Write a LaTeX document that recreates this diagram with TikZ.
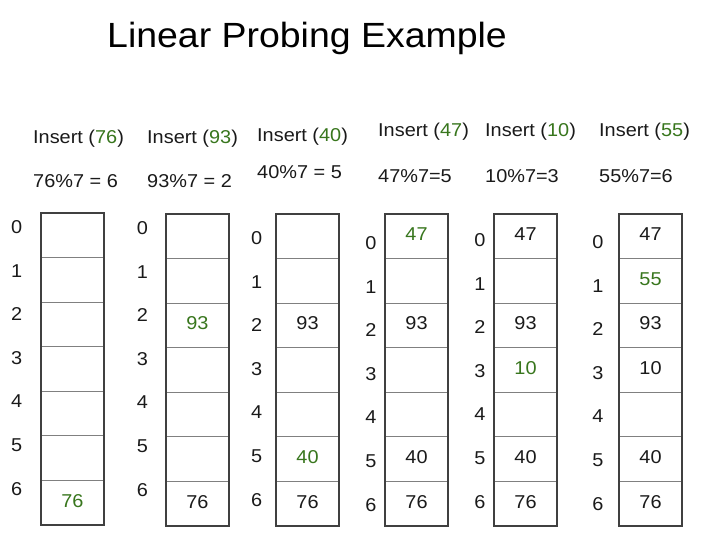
\documentclass[tikz,border=0pt]{standalone}
\usepackage{fontspec}
\setmainfont{Liberation Sans}[FakeStretch=1.07]
\definecolor{hl}{HTML}{38761D}
\definecolor{ink}{HTML}{1A1A1A}
\definecolor{rowline}{HTML}{808080}
\definecolor{boxline}{HTML}{404040}
\begin{document}
\begin{tikzpicture}[x=1pt,y=-1pt,
  cell/.style={draw=rowline, line width=0.9pt, minimum width=63pt, minimum height=44.57pt,
    inner sep=0pt, outer sep=0pt, anchor=north west},
  border/.style={draw=boxline, line width=1.3pt},
  idx/.style={inner sep=0pt, text=ink, font=\fontsize{18.6}{20}\selectfont},
  num/.style={inner sep=0pt, text=ink, yshift=2pt, font=\fontsize{18.6}{20}\selectfont},
  lbl/.style={inner sep=0pt, anchor=base west, text=ink, font=\fontsize{18.6}{20}\selectfont},
  ttl/.style={inner sep=0pt, anchor=base west, text=black, font=\fontsize{35}{40}\selectfont}]
\useasboundingbox (0,0) rectangle (714,535);
\fill[white] (0,0) rectangle (714,535);

\node[ttl] (title) at (107,47.7) {Linear Probing Example};

% tables: number / left x / top y / index x / first index y
\foreach \t/\x/\top/\ix/\iy in {1/41/213/16.7/227, 2/166/214/142.5/228, 3/276/214/256.7/238,
                                 4/385/214/371/243, 5/494/214/480/240, 6/619/214/598/242} {
  \foreach \r in {0,...,6} {
    \node[cell] (t\t-c\r) at (\x,{\top+\r*44.57}) {};
    \node[idx] (t\t-i\r) at (\ix,{\iy+\r*43.6}) {\r};
  }
  \draw[border] (t\t-c0.north west) rectangle (t\t-c6.south east);
}

% headers
\node[lbl] (h1a) at (33,143) {Insert (\textcolor{hl}{76})};
\node[lbl] (h1b) at (33,187) {76\%7 = 6};
\node[lbl] (h2a) at (147,143) {Insert (\textcolor{hl}{93})};
\node[lbl] (h2b) at (147,187) {93\%7 = 2};
\node[lbl] (h3a) at (257,141) {Insert (\textcolor{hl}{40})};
\node[lbl] (h3b) at (257,178) {40\%7 = 5};
\node[lbl] (h4a) at (378,136) {Insert (\textcolor{hl}{47})};
\node[lbl] (h4b) at (378,182) {47\%7=5};
\node[lbl] (h5a) at (485,136) {Insert (\textcolor{hl}{10})};
\node[lbl] (h5b) at (485,182) {10\%7=3};
\node[lbl] (h6a) at (599,136) {Insert (\textcolor{hl}{55})};
\node[lbl] (h6b) at (599,182) {55\%7=6};

% table 1
\node[num, text=hl] (v1-6) at (t1-c6) {76};
% table 2
\node[num, text=hl] (v2-2) at (t2-c2) {93};
\node[num] (v2-6) at (t2-c6) {76};
% table 3
\node[num] (v3-2) at (t3-c2) {93};
\node[num, text=hl] (v3-5) at (t3-c5) {40};
\node[num] (v3-6) at (t3-c6) {76};
% table 4
\node[num, text=hl] (v4-0) at (t4-c0) {47};
\node[num] (v4-2) at (t4-c2) {93};
\node[num] (v4-5) at (t4-c5) {40};
\node[num] (v4-6) at (t4-c6) {76};
% table 5
\node[num] (v5-0) at (t5-c0) {47};
\node[num] (v5-2) at (t5-c2) {93};
\node[num, text=hl] (v5-3) at (t5-c3) {10};
\node[num] (v5-5) at (t5-c5) {40};
\node[num] (v5-6) at (t5-c6) {76};
% table 6
\node[num] (v6-0) at (t6-c0) {47};
\node[num, text=hl] (v6-1) at (t6-c1) {55};
\node[num] (v6-2) at (t6-c2) {93};
\node[num] (v6-3) at (t6-c3) {10};
\node[num] (v6-5) at (t6-c5) {40};
\node[num] (v6-6) at (t6-c6) {76};
\end{tikzpicture}
\end{document}
